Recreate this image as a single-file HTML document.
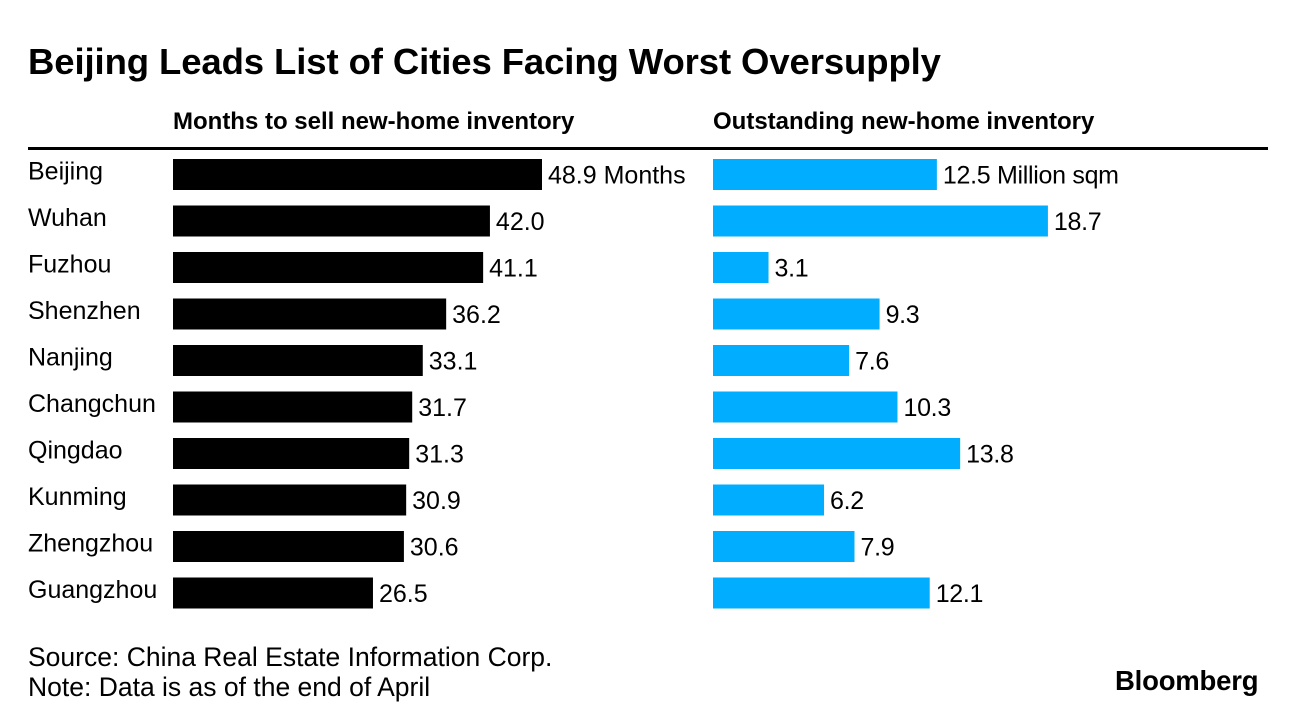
<!DOCTYPE html>
<html><head><meta charset="utf-8"><style>
body{margin:0;width:1296px;height:726px;background:#fff;font-family:"Liberation Sans",sans-serif;overflow:hidden;position:relative}
.t{position:absolute;white-space:nowrap;color:#000}
</style></head><body>
<div class="t" style="left:28px;top:41px;font-size:36.5px;font-weight:bold;letter-spacing:-0.1px">Beijing Leads List of Cities Facing Worst Oversupply</div>
<div class="t" style="left:173px;top:108px;font-size:24px;font-weight:bold">Months to sell new-home inventory</div>
<div class="t" style="left:713px;top:108px;font-size:24px;font-weight:bold">Outstanding new-home inventory</div>
<div style="position:absolute;left:28px;top:147px;width:1240px;height:3px;background:#000"></div>
<svg id="c" width="1296" height="726" style="position:absolute;left:0;top:0"></svg>
<div class="t" style="left:28px;top:642px;font-size:26.5px;line-height:30px">Source: China Real Estate Information Corp.<br>Note: Data is as of the end of April</div>
<div class="t" style="left:1115px;top:665px;font-size:27.5px;font-weight:bold;letter-spacing:-0.2px">Bloomberg</div>
<script>
const cities=["Beijing","Wuhan","Fuzhou","Shenzhen","Nanjing","Changchun","Qingdao","Kunming","Zhengzhou","Guangzhou"];
const months=[48.9,42.0,41.1,36.2,33.1,31.7,31.3,30.9,30.6,26.5];
const inventory=[12.5,18.7,3.1,9.3,7.6,10.3,13.8,6.2,7.9,12.1];
const svg=document.getElementById('c');const NS='http://www.w3.org/2000/svg';
const xL=v=>173+v*7.546, xR=v=>713+v*17.91, yC=i=>174.5+i*46.5;
function add(tag,attrs,txt){const e=document.createElementNS(NS,tag);for(const k in attrs)e.setAttribute(k,attrs[k]);if(txt!=null)e.textContent=txt;svg.appendChild(e);return e;}
cities.forEach((c,i)=>{
  const lb=add('text',{x:28,y:yC(i)+5,'font-size':25,'font-family':'Liberation Sans, sans-serif'},c);
  
  
  const b1=add('rect',{x:173,y:yC(i)-15.5,width:xL(months[i])-173,height:31,fill:'#000'});
  
  
  const t1=add('text',{x:xL(months[i])+6,y:yC(i)+9,'font-size':25,'font-family':'Liberation Sans, sans-serif','letter-spacing':'0'},months[i].toFixed(1)+(i==0?' Months':''));
  
  
  const b2=add('rect',{x:713,y:yC(i)-15.5,width:xR(inventory[i])-713,height:31,fill:'#00adff'});
  
  
  const t2=add('text',{x:xR(inventory[i])+6,y:yC(i)+9,'font-size':25,'font-family':'Liberation Sans, sans-serif','letter-spacing':'-0.3'},inventory[i].toFixed(1)+(i==0?' Million sqm':''));
  
  
});
</script>
</body></html>
